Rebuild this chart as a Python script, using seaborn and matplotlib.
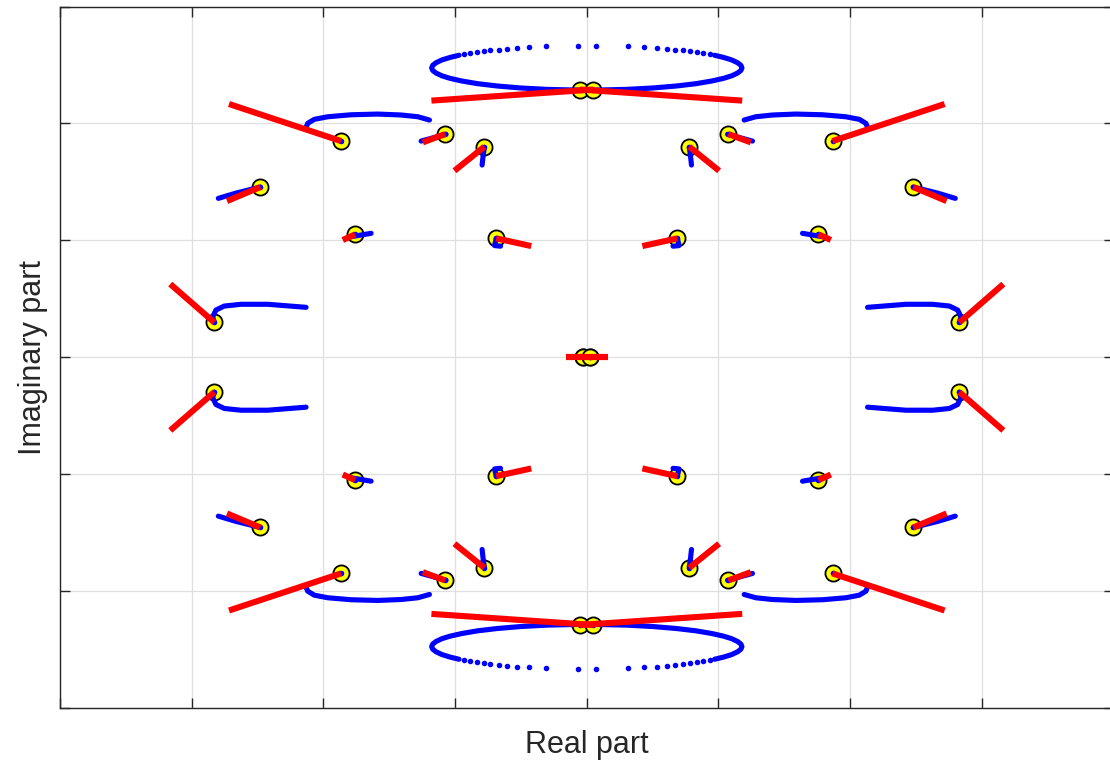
import numpy as np
import pandas as pd
import matplotlib
matplotlib.use("Agg")
import matplotlib.pyplot as plt
import seaborn as sns

# ---------------------------------------------------------------------------
# Eigenvalue data for the upper-left quadrant of the complex plane.
# The spectrum is symmetric about both axes (conjugate pairs and +/- pairs),
# so every item below is reflected into the other three quadrants.
# ---------------------------------------------------------------------------

# Nominal eigenvalues (yellow circles)
pole_re = [-0.05, -1.866, -1.075, -0.778, -2.479, -1.759, -0.688, -2.829, -0.026]
pole_im = [2.29, 1.849, 1.909, 1.801, 1.456, 1.051, 1.017, 0.298, 0.0]

# First-order sensitivity directions (red segments)
seg_start_re = [0.05, -1.866, -1.075, -0.778, -2.479, -1.759, -0.688, -2.829, 0.0]
seg_start_im = [2.29, 1.849, 1.909, 1.801, 1.456, 1.051, 1.017, 0.298, 0.0]
seg_end_re = [-1.18, -2.717, -1.245, -1.005, -2.732, -1.853, -0.422, -3.163, -0.16]
seg_end_im = [2.195, 2.166, 1.838, 1.595, 1.336, 1.003, 0.951, 0.626, 0.0]

# Eigenvalue loci traced by the perturbation sweep (blue)
locus_top_re = [-0.97, -1.04, -1.10, -1.145, -1.170, -1.178, -1.170, -1.145,
                -1.10, -1.04, -0.95, -0.83, -0.68, -0.50, -0.30, -0.10, 0.0]
locus_top_im = [2.583, 2.564, 2.543, 2.519, 2.497, 2.475, 2.453, 2.431,
                2.407, 2.386, 2.363, 2.340, 2.320, 2.303, 2.291, 2.286, 2.285]
locus_top_sparse_re = [-0.07, -0.313, -0.437, -0.53, -0.606, -0.67, -0.733,
                       -0.784, -0.834, -0.885, -0.936]
locus_top_sparse_im = [2.665, 2.658, 2.651, 2.645, 2.638, 2.631, 2.624,
                       2.617, 2.609, 2.600, 2.590]

locus_arc_re = [-2.132, -2.119, -2.069, -1.967, -1.790, -1.587, -1.410, -1.283, -1.195]
locus_arc_im = [1.967, 2.001, 2.035, 2.057, 2.074, 2.080, 2.072, 2.057, 2.029]

locus_b_re = [-1.258, -1.069]
locus_b_im = [1.849, 1.907]

locus_c_re = [-0.778, -0.787, -0.795]
locus_c_im = [1.795, 1.726, 1.644]

locus_d_re = [-2.798, -2.664, -2.479]
locus_d_im = [1.359, 1.404, 1.456]

locus_e_re = [-1.790, -1.638]
locus_e_im = [1.031, 1.060]

locus_f_re = [-0.688, -0.700, -0.655]
locus_f_im = [1.017, 0.955, 0.950]

locus_g_re = [-2.829, -2.841, -2.816, -2.753, -2.626, -2.423, -2.132]
locus_g_im = [0.298, 0.346, 0.404, 0.438, 0.453, 0.453, 0.427]

branches = [
    (locus_top_re, locus_top_im),
    (locus_arc_re, locus_arc_im),
    (locus_b_re, locus_b_im),
    (locus_c_re, locus_c_im),
    (locus_d_re, locus_d_im),
    (locus_e_re, locus_e_im),
    (locus_f_re, locus_f_im),
    (locus_g_re, locus_g_im),
]

QUADRANTS = [(1, 1), (-1, 1), (1, -1), (-1, -1)]


def reflect_points(xs, ys):
    out_x, out_y = [], []
    for sx, sy in QUADRANTS:
        out_x += [sx * v for v in xs]
        out_y += [sy * v for v in ys]
    return out_x, out_y


def reflect_paths(paths):
    rows = []
    for b, (xs, ys) in enumerate(paths):
        for q, (sx, sy) in enumerate(QUADRANTS):
            for x, y in zip(xs, ys):
                rows.append({"re": sx * x, "im": sy * y, "branch": f"{b}-{q}"})
    return pd.DataFrame(rows)


loci_df = reflect_paths(branches)
segments = [([a, c], [b, d]) for a, b, c, d in
            zip(seg_start_re, seg_start_im, seg_end_re, seg_end_im)]
seg_df = reflect_paths(segments)
sparse_x, sparse_y = reflect_points(locus_top_sparse_re, locus_top_sparse_im)
poles_x, poles_y = reflect_points(pole_re, pole_im)

# ---------------------------------------------------------------------------
sns.set_theme(style="whitegrid")
plt.rcParams["font.family"] = ["Liberation Sans", "DejaVu Sans"]

fig = plt.figure(figsize=(11.1, 7.65), dpi=100)
ax = fig.add_axes([0.0541, 0.0745, 0.9491, 0.917])

ink = "#262626"

sns.scatterplot(x=poles_x, y=poles_y, s=135, color="#ffff00",
                edgecolor="black", linewidth=1.3, ax=ax, zorder=3, legend=False)

sns.lineplot(data=loci_df, x="re", y="im", units="branch", estimator=None,
             sort=False, color="#0000ff", linewidth=3.7, ax=ax, zorder=4,
             legend=False, solid_capstyle="round")
sns.scatterplot(x=sparse_x, y=sparse_y, s=16, color="#0000ff", linewidth=0,
                ax=ax, zorder=4, legend=False)
sns.scatterplot(x=poles_x, y=poles_y, s=16, color="#0000ff", linewidth=0,
                ax=ax, zorder=4, legend=False)

sns.lineplot(data=seg_df, x="re", y="im", units="branch", estimator=None,
             sort=False, color="#ff0000", linewidth=4.4, ax=ax, zorder=5,
             legend=False, solid_capstyle="butt")

ax.set_xlim(-4, 4)
ax.set_ylim(-3, 3)
ax.set_xticks(np.arange(-4, 5, 1))
ax.set_yticks(np.arange(-3, 4, 1))
ax.set_xticklabels([])
ax.set_yticklabels([])
ax.tick_params(direction="in", length=7.5, width=1.0, color=ink,
               top=True, right=True, bottom=True, left=True)
ax.grid(True, color="#dfdfdf", linewidth=0.9)
ax.set_axisbelow(True)
for side in ax.spines.values():
    side.set_visible(True)
    side.set_color(ink)
    side.set_linewidth(1.0)

ax.set_xlabel("Real part", fontsize=22, color=ink, labelpad=12)
ax.set_ylabel("Imaginary part", fontsize=22, color=ink, labelpad=5)

fig.savefig("out.png", dpi=100)
